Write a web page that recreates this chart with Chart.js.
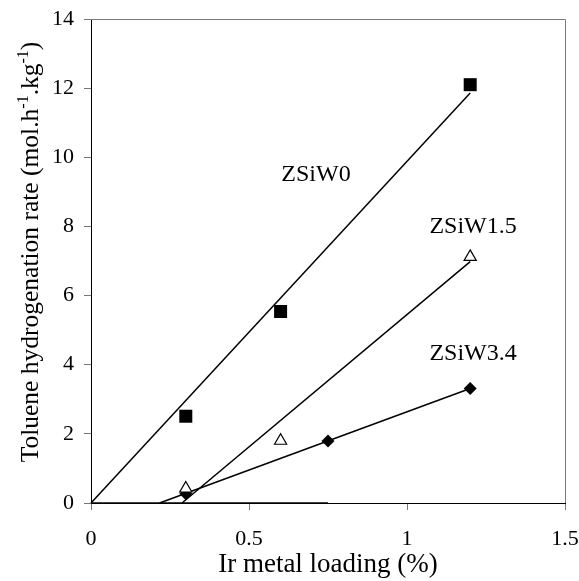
<!DOCTYPE html>
<html>
<head>
<meta charset="utf-8">
<script src="https://cdn.jsdelivr.net/npm/chart.js@4"></script>
<style>
  html, body { margin: 0; padding: 0; background: #fff; }
  #wrap { width: 579px; height: 581px; }
</style>
</head>
<body>
<div id="wrap"><canvas id="rateChart" width="579" height="581"></canvas></div>
<script>
// Ir loading (%) vs toluene hydrogenation rate
const seriesNames = ['ZSiW0', 'ZSiW1.5', 'ZSiW3.4'];

const loadW0 = [0.3, 0.6, 1.2];
const rateW0 = [2.51, 5.54, 12.1];
const loadW15 = [0.3, 0.6, 1.2];
const rateW15 = [0.42, 1.8, 7.12];
const loadW34 = [0.3, 0.75, 1.2];
const rateW34 = [0.27, 1.79, 3.31];

// fitted lines, start/end points
const fitW0X = [0, 1.2];
const fitW0Y = [0, 11.86];
const fitW15X = [0.288, 1.2];
const fitW15Y = [0, 6.98];
const fitW34X = [0.217, 1.2];
const fitW34Y = [0, 3.31];
const baseX = [0, 0.75];
const baseY = [0, 0];

// series label anchors (data units, centre / baseline)
const labelX = [0.712, 1.209, 1.209];
const labelY = [9.3, 7.82, 4.14];

const xTicks = [0, 0.5, 1, 1.5];
const yTicks = [0, 2, 4, 6, 8, 10, 12, 14];

const SERIF = '"Liberation Serif", "DejaVu Serif", serif';

function pts(xs, ys) {
    return xs.map((x, i) => ({ x: x, y: ys[i] }));
}

function fitLine(xs, ys) {
    return {
        type: 'line',
        data: pts(xs, ys),
        borderColor: '#000',
        borderWidth: 1.5,
        pointRadius: 0,
        fill: false,
        order: 2
    };
}

// top/right frame of the plot box
const framePlugin = {
    id: 'frame',
    beforeDatasetsDraw(chart) {
        const { ctx, chartArea: a } = chart;
        ctx.save();
        ctx.strokeStyle = '#7a7a7a';
        ctx.lineWidth = 1;
        ctx.beginPath();
        ctx.moveTo(a.left, a.top + 0.5);
        ctx.lineTo(a.right + 0.5, a.top + 0.5);
        ctx.lineTo(a.right + 0.5, a.bottom);
        ctx.stroke();
        ctx.restore();
    }
};

// series names next to the curves
const seriesLabelPlugin = {
    id: 'seriesLabels',
    afterDatasetsDraw(chart) {
        const { ctx, scales } = chart;
        ctx.save();
        ctx.fillStyle = '#000';
        ctx.font = '24px ' + SERIF;
        ctx.textAlign = 'center';
        ctx.textBaseline = 'alphabetic';
        seriesNames.forEach((name, i) => {
            ctx.fillText(name, scales.x.getPixelForValue(labelX[i]), scales.y.getPixelForValue(labelY[i]));
        });
        ctx.restore();
    }
};

// y title with superscripts, drawn rotated
const yTitlePlugin = {
    id: 'yTitle',
    afterDraw(chart) {
        const { ctx, chartArea: a } = chart;
        const parts = [
            ['Toluene hydrogenation rate (mol.h', false],
            ['-1', true],
            ['.kg', false],
            ['-1', true],
            [')', false]
        ];
        const big = '25.5px ' + SERIF;
        const small = '16px ' + SERIF;
        let total = 0;
        parts.forEach(p => {
            ctx.font = p[1] ? small : big;
            total += ctx.measureText(p[0]).width;
        });
        ctx.save();
        ctx.translate(38, (a.top + a.bottom) / 2 - 9);
        ctx.rotate(-Math.PI / 2);
        ctx.fillStyle = '#000';
        ctx.textBaseline = 'alphabetic';
        ctx.textAlign = 'left';
        let x = -total / 2;
        parts.forEach(p => {
            ctx.font = p[1] ? small : big;
            ctx.fillText(p[0], x, p[1] ? -10 : 0);
            x += ctx.measureText(p[0]).width;
        });
        ctx.restore();
    }
};

const ctx = document.getElementById('rateChart');
new Chart(ctx, {
    type: 'scatter',
    data: {
        datasets: [{
            label: seriesNames[0],
            data: pts(loadW0, rateW0),
            pointStyle: 'rect',
            pointRadius: 9.2,
            backgroundColor: '#000',
            borderColor: '#000',
            borderWidth: 0,
            order: 1
        }, {
            label: seriesNames[1],
            data: pts(loadW15, rateW15),
            pointStyle: 'triangle',
            pointRadius: 7,
            backgroundColor: '#fff',
            borderColor: '#000',
            borderWidth: 1.2,
            order: 1
        }, {
            label: seriesNames[2],
            data: pts(loadW34, rateW34),
            pointStyle: 'rectRot',
            pointRadius: 6.5,
            backgroundColor: '#000',
            borderColor: '#000',
            borderWidth: 0,
            order: 1
        },
        fitLine(fitW0X, fitW0Y),
        fitLine(fitW15X, fitW15Y),
        fitLine(fitW34X, fitW34Y),
        fitLine(baseX, baseY)]
    },
    options: {
        responsive: false,
        animation: false,
        clip: false,
        layout: {
            padding: { top: 19, right: 14, left: 0, bottom: 0 }
        },
        plugins: {
            legend: { display: false },
            tooltip: { enabled: false }
        },
        scales: {
            x: {
                type: 'linear',
                min: 0,
                max: 1.5,
                afterBuildTicks: scale => { scale.ticks = xTicks.map(v => ({ value: v })); },
                afterFit: scale => {
                    scale.height = 78;
                    scale.paddingLeft = 0;
                    scale.paddingRight = 0;
                },
                border: { color: '#000', width: 1 },
                grid: { drawOnChartArea: false, drawTicks: true, tickLength: 7, color: '#777' },
                ticks: {
                    color: '#000',
                    padding: 16,
                    maxRotation: 0,
                    font: { family: SERIF, size: 22 },
                    callback: v => String(v)
                },
                title: {
                    display: true,
                    text: 'Ir metal loading (%)',
                    color: '#000',
                    font: { family: SERIF, size: 27 },
                    padding: { top: 0, bottom: 0 }
                }
            },
            y: {
                type: 'linear',
                min: 0,
                max: 14,
                afterBuildTicks: scale => { scale.ticks = yTicks.map(v => ({ value: v })); },
                afterFit: scale => {
                    scale.width = 91;
                    scale.paddingTop = 0;
                    scale.paddingBottom = 0;
                },
                border: { color: '#000', width: 1 },
                grid: { drawOnChartArea: false, drawTicks: true, tickLength: 7, color: '#777' },
                ticks: {
                    color: '#000',
                    padding: 10,
                    font: { family: SERIF, size: 22 },
                    callback: v => String(v)
                }
            }
        }
    },
    plugins: [framePlugin, seriesLabelPlugin, yTitlePlugin]
});
</script>
</body>
</html>
